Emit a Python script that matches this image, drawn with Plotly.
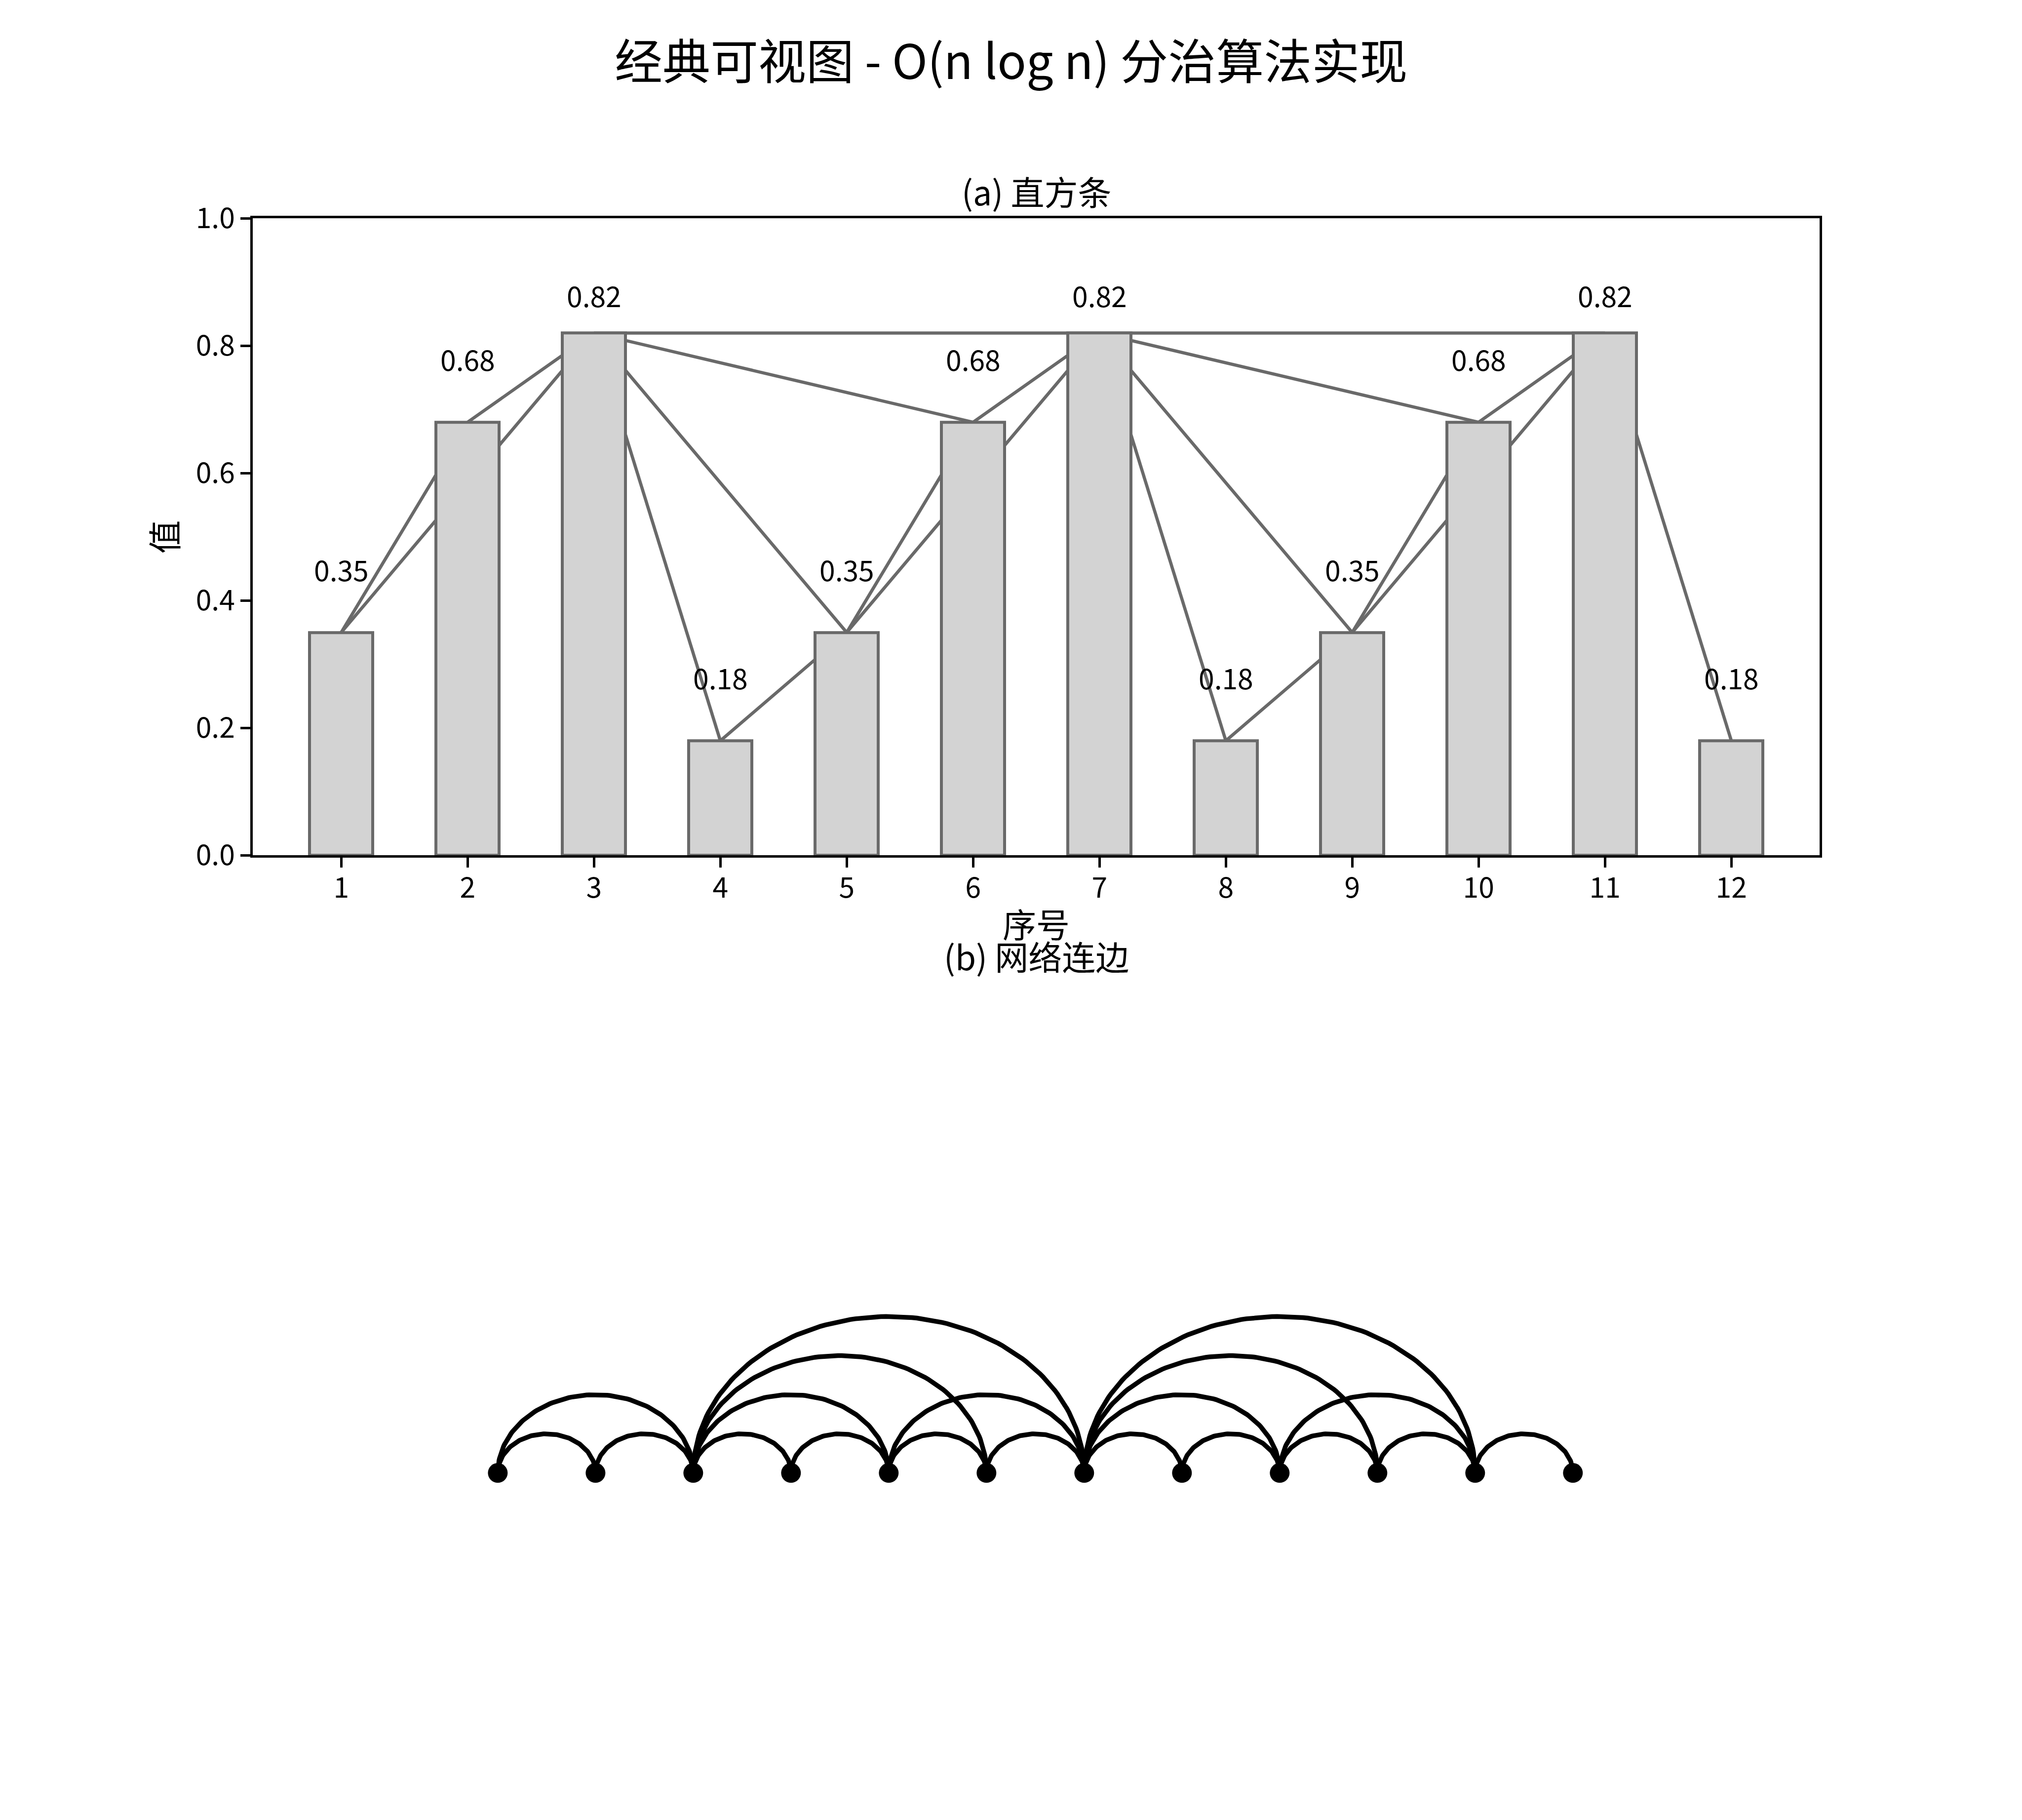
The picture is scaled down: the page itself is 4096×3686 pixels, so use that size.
import numpy as np
import plotly.graph_objects as go

W, H = 4096, 3686
FONT = "Noto Sans CJK SC"

# ---------------- data ----------------
categories = [1, 2, 3, 4, 5, 6, 7, 8, 9, 10, 11, 12]
tick_labels = ["1", "2", "3", "4", "5", "6", "7", "8", "9", "10", "11", "12"]
values = [0.35, 0.68, 0.82, 0.18, 0.35, 0.68, 0.82, 0.18, 0.35, 0.68, 0.82, 0.18]
value_labels = ["0.35", "0.68", "0.82", "0.18", "0.35", "0.68", "0.82", "0.18",
                "0.35", "0.68", "0.82", "0.18"]
edges = [(1, 2), (2, 3), (3, 4), (4, 5), (5, 6), (6, 7), (7, 8), (8, 9), (9, 10),
         (10, 11), (11, 12), (1, 3), (3, 5), (5, 7), (7, 9), (9, 11), (3, 6),
         (7, 10), (3, 7), (7, 11)]
y_ticks = [0.0, 0.2, 0.4, 0.6, 0.8, 1.0]
y_tick_labels = ["0.0", "0.2", "0.4", "0.6", "0.8", "1.0"]

title = "经典可视图 - O(n log n) 分治算法实现"
title_a = "(a) 直方条"
title_b = "(b) 网络连边"
xlabel = "序号"
ylabel = "值"

GRAY = "#696969"
LIGHT = "#d3d3d3"

fig = go.Figure()

# ---------- (a) bars ----------
fig.add_trace(go.Bar(
    x=categories, y=values, width=0.5,
    marker=dict(color=LIGHT, line=dict(color=GRAY, width=6)),
    xaxis="x", yaxis="y", hoverinfo="skip",
))

# connecting lines between bar tops (behind bars)
shapes = []
val_of = dict(zip(categories, values))
for a, b in edges:
    shapes.append(dict(type="line", xref="x", yref="y", layer="below",
                       x0=a, y0=val_of[a], x1=b, y1=val_of[b],
                       line=dict(color=GRAY, width=6.5)))

# ---------- (b) arc diagram ----------
ax, ay = [], []
t = np.linspace(0, np.pi, 120)
for a, b in edges:
    c = (a + b) / 2.0
    r = (b - a) / 2.0
    ax.extend(list(c - r * np.cos(t)) + [None])
    ay.extend(list(r * np.sin(t)) + [None])
fig.add_trace(go.Scatter(x=ax, y=ay, mode="lines",
                         line=dict(color="black", width=9.5),
                         xaxis="x2", yaxis="y2", hoverinfo="skip"))
fig.add_trace(go.Scatter(x=categories, y=[0] * len(categories), mode="markers",
                         marker=dict(color="black", size=40, line=dict(width=0)),
                         xaxis="x2", yaxis="y2", hoverinfo="skip"))

annotations = []
for c, v, lab in zip(categories, values, value_labels):
    annotations.append(dict(x=c, y=min(v + 0.1, 0.88), xref="x", yref="y",
                            text=lab, showarrow=False, xanchor="center",
                            yanchor="middle", font=dict(size=57, color="black", family=FONT)))

XC = (0.125 + 0.9) / 2
annotations += [
    dict(x=0.5, y=0.9681, xref="paper", yref="paper", text=title, showarrow=False,
         xanchor="center", yanchor="middle", font=dict(size=97, color="black", family=FONT)),
    dict(x=XC, y=0.8951, xref="paper", yref="paper", text=title_a, showarrow=False,
         xanchor="center", yanchor="middle", font=dict(size=68, color="black", family=FONT)),
    dict(x=XC, y=0.4927, xref="paper", yref="paper", text=xlabel, showarrow=False,
         xanchor="center", yanchor="middle", font=dict(size=68, color="black", family=FONT)),
    dict(x=0.0806, y=0.705, xref="paper", yref="paper", text=ylabel, showarrow=False,
         textangle=-90, xanchor="center", yanchor="middle",
         font=dict(size=68, color="black", family=FONT)),
    dict(x=XC, y=0.4749, xref="paper", yref="paper", text=title_b, showarrow=False,
         xanchor="center", yanchor="middle", font=dict(size=68, color="black", family=FONT)),
]

axis_common = dict(showgrid=False, zeroline=False, showline=True, linecolor="black",
                   linewidth=4.5, mirror=True, ticks="outside", ticklen=20,
                   tickwidth=4.5, tickcolor="black", automargin=False,
                   tickfont=dict(size=57, color="black", family=FONT))

fig.update_layout(
    template="none",
    width=W, height=H, autosize=False,
    margin=dict(l=0, r=0, t=0, b=0, pad=0, autoexpand=False),
    paper_bgcolor="white", plot_bgcolor="white",
    showlegend=False, bargap=0,
    font=dict(family=FONT, color="black"),
    xaxis=dict(domain=[0.125, 0.9], range=[0.3, 12.7], anchor="y",
               tickmode="array", tickvals=categories, ticktext=tick_labels,
               ticklabelstandoff=-8, **axis_common),
    yaxis=dict(domain=[0.53, 0.88], range=[0, 1], anchor="x",
               tickmode="array", tickvals=y_ticks, ticktext=y_tick_labels,
               **axis_common),
    xaxis2=dict(domain=[0.125, 0.9], range=[-1.507, 14.526], anchor="y2",
                visible=False, automargin=False),
    yaxis2=dict(domain=[0.11, 0.46], range=[-1.878, 6.266], anchor="x2",
                visible=False, automargin=False),
    shapes=shapes,
    annotations=annotations,
)

fig.write_html("out.html")
